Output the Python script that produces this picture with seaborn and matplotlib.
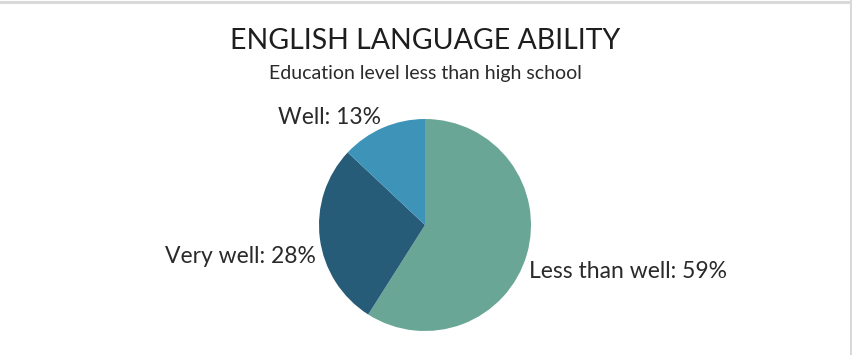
import matplotlib
matplotlib.use("Agg")
import matplotlib.pyplot as plt
import matplotlib.lines as mlines
import seaborn as sns

# data
categories = ["Less than well", "Very well", "Well"]
shares = [59, 28, 13]
colors = ["#6aa695", "#275c79", "#3e93b9"]

sns.set_theme(style="white")
plt.rcParams["font.family"] = ["Lato", "DejaVu Sans"]

W, H = 852, 355
fig = plt.figure(figsize=(W / 100, H / 100), dpi=100)
fig.patch.set_facecolor("white")

# pie centre at (425, 225) px, radius ~106 px
r_px = 106
cx, cy = 425, H - 225
ax = fig.add_axes([(cx - 2 * r_px) / W, (cy - 1.2 * r_px) / H,
                   4 * r_px / W, 2.4 * r_px / H])

labels = [f"{c}: {v}%" for c, v in zip(categories, shares)]
wedges, texts = ax.pie(shares, colors=colors, labels=labels, startangle=90,
                       counterclock=False, radius=1.0, frame=True,
                       wedgeprops=dict(linewidth=0),
                       textprops=dict(fontsize=16.5, color="#2a2a2a"))
ax.set_xlim(-2, 2)
ax.set_ylim(-1.2, 1.2)
ax.set_aspect("equal")
ax.axis("off")

# nudge labels to where the reference puts them
label_pos = {"Less than well": (0.98, -0.44, "left"),
             "Very well": (-1.03, -0.30, "right"),
             "Well": (-0.415, 1.01, "right")}
for t, c in zip(texts, categories):
    x, y, ha = label_pos[c]
    t.set_position((x, y))
    t.set_ha(ha)
    t.set_va("center")

fig.text(425 / W, 1 - 41 / H, "ENGLISH LANGUAGE ABILITY", ha="center",
         va="center", fontsize=20.5, color="#1e1e1e")
fig.text(425 / W, 1 - 74 / H, "Education level less than high school",
         ha="center", va="center", fontsize=14, color="#2a2a2a")

# grey edge on top and right, like the dashboard frame
fig.add_artist(mlines.Line2D([0, 1], [1 - 1.5 / H, 1 - 1.5 / H],
                             transform=fig.transFigure, color="#d9d9d9", lw=2.2))
fig.add_artist(mlines.Line2D([1 - 1.5 / W, 1 - 1.5 / W], [0, 1],
                             transform=fig.transFigure, color="#d9d9d9", lw=2.2))

fig.savefig("out.png", dpi=100)
